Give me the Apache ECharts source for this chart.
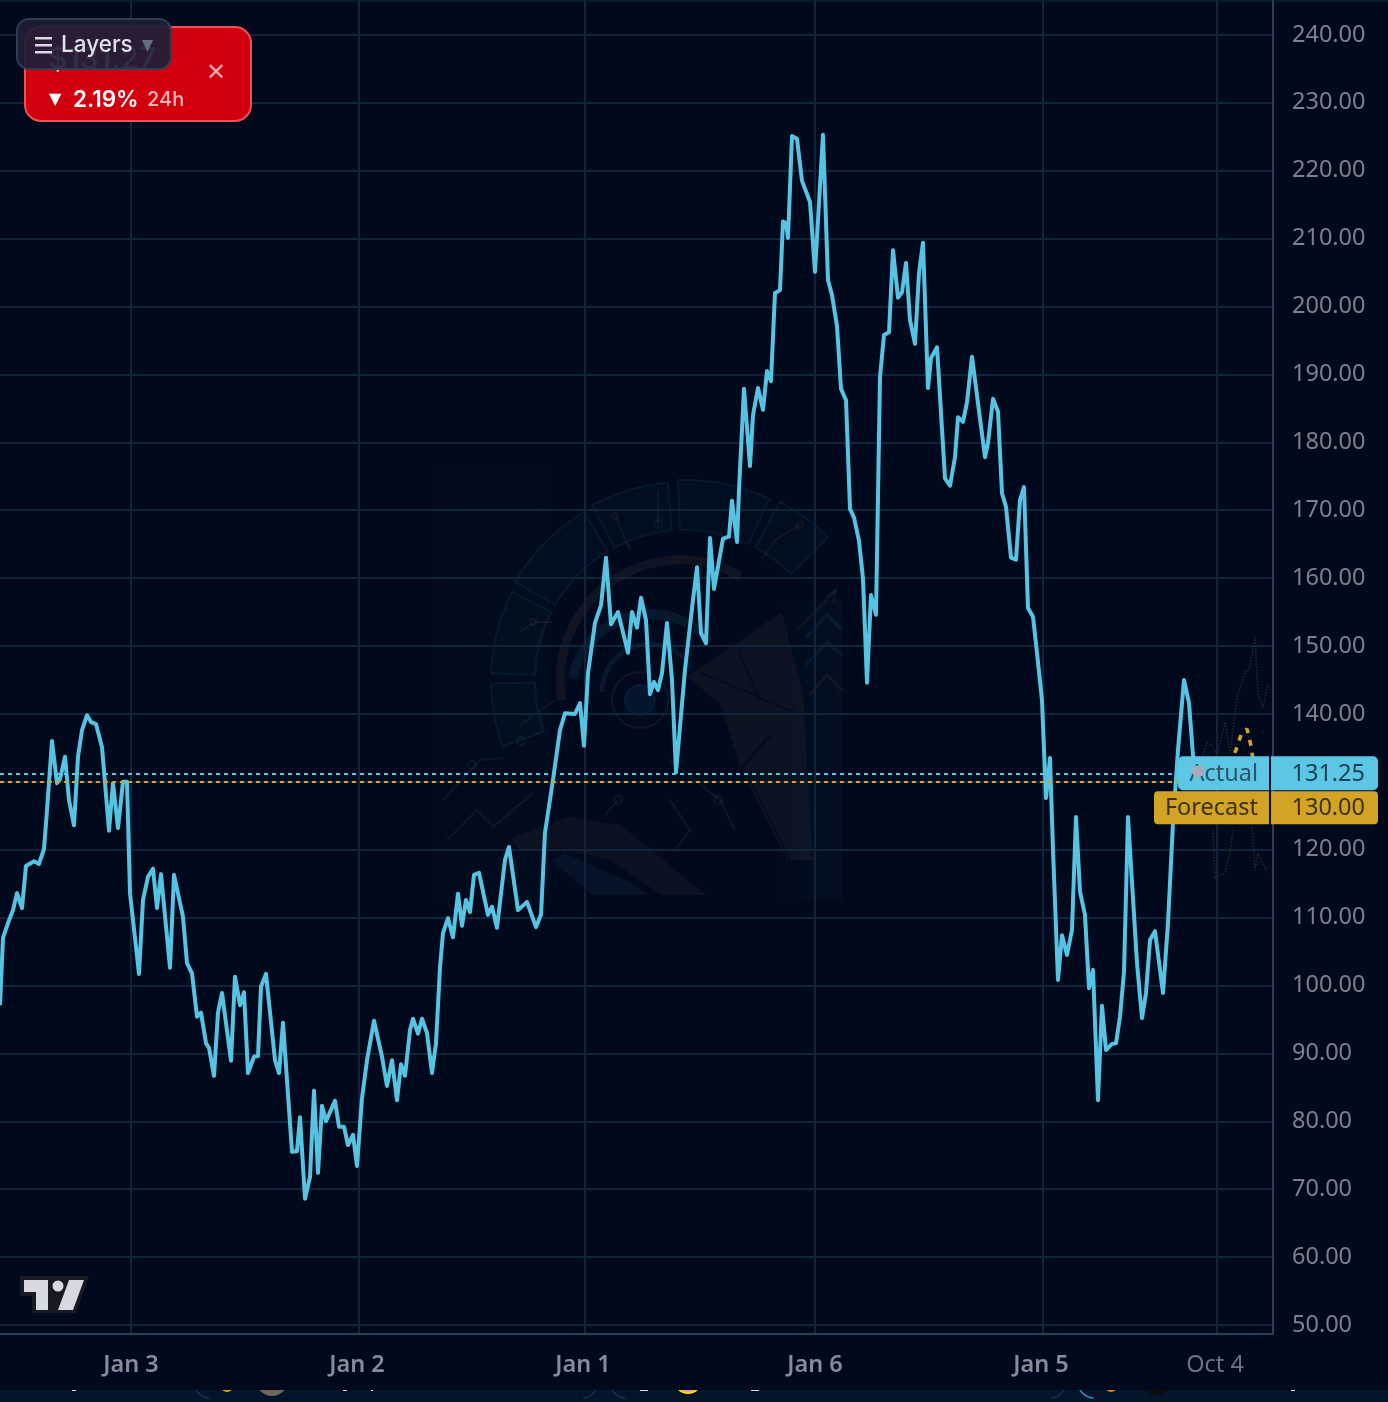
<!DOCTYPE html>
<html>
<head>
<meta charset="utf-8">
<style>html,body{margin:0;padding:0;background:#000a1c}#c{width:1388px;height:1402px}</style>
<script src="https://cdn.jsdelivr.net/npm/echarts@6/dist/echarts.min.js"></script>
</head>
<body>
<div id="c"></div>
<script>
var yTicks = [50,60,70,80,90,100,110,120,130,140,150,160,170,180,190,200,210,220,230,240];
var xTicks = [131,359,585,815,1043,1217];
var xTickLabels = ["Jan 3","Jan 2","Jan 1","Jan 6","Jan 5","Oct 4"];

var timeSteps = [0,3,8,13,17,22,26,34,39,44,47,52,57,60,65,69,74,78,82,87,91,96,102,109,113,118,123,127,130,139,143,148,153,157,161,170,174,183,187,192,197,201,206,209,214,218,222,231,235,240,244,248,254,258,261,266,275,279,283,292,297,300,305,310,314,318,322,326,335,339,344,348,353,357,362,367,374,382,387,392,397,401,405,410,413,418,422,427,432,436,440,443,448,453,458,462,466,470,474,479,488,492,497,505,509,518,527,536,541,545,553,560,565,575,580,584,588,595,601,606,611,618,628,632,637,641,646,650,654,658,662,667,672,676,685,693,697,701,706,710,714,723,729,732,737,739,744,750,753,758,763,767,771,775,780,783,786,788,792,797,802,810,815,823,828,832,837,841,846,850,854,859,863,867,871,876,880,884,889,893,898,902,906,910,915,919,923,928,931,937,945,950,955,958,963,967,972,985,988,993,998,1002,1006,1011,1016,1020,1024,1028,1033,1037,1042,1046,1050,1053,1058,1062,1067,1072,1076,1080,1085,1089,1093,1098,1102,1106,1112,1116,1120,1124,1128,1137,1142,1146,1150,1155,1163,1168,1173,1178,1184,1189,1193,1199];
var actualPrices = [97.1,107.0,109.2,111.1,113.6,111.4,117.6,118.3,117.9,120.1,125.8,136.0,129.8,130.4,133.7,127.3,123.6,133.7,137.6,139.8,138.8,138.5,135.1,122.8,129.8,123.2,130.0,130.0,113.6,101.7,112.6,116.0,117.2,111.4,116.4,102.6,116.3,110.1,103.3,101.8,95.4,96.0,91.5,90.8,86.7,96.0,98.9,88.9,101.3,97.1,99.0,87.1,89.5,89.6,99.8,101.7,89.0,87.1,94.5,75.5,75.6,80.6,68.6,71.8,84.5,72.4,82.3,80.0,83.0,79.2,79.2,76.5,78.0,73.4,83.4,89.0,94.8,89.5,85.2,89.0,83.1,88.4,86.7,93.4,95.1,92.9,95.1,93.0,87.1,91.5,102.7,107.7,109.9,107.1,113.5,108.8,112.6,110.8,116.3,116.6,110.4,111.6,108.5,118.5,120.4,111.1,112.3,108.6,110.4,122.5,130.3,137.6,140.1,140.0,141.6,135.3,146.0,153.4,156.0,163.0,153.2,155.0,149.0,155.0,152.7,157.1,153.8,142.9,144.7,143.5,146.0,153.4,145.0,131.4,146.5,156.8,161.6,151.9,150.4,165.9,158.4,165.8,166.1,171.4,165.3,173.0,187.9,176.5,184.0,188.0,184.8,190.5,189.0,202.0,202.4,212.5,212.3,210.1,225.1,224.7,218.5,215.4,205.1,225.3,203.9,201.7,197.1,187.9,186.2,170.2,168.9,165.5,159.9,144.6,157.5,154.6,189.6,195.8,196.2,208.3,201.3,202.1,206.4,198.0,194.5,204.9,209.4,188.0,192.4,194.0,174.7,173.6,177.8,183.7,183.0,185.9,192.6,177.8,179.9,186.4,184.5,172.5,170.5,163.0,162.7,171.5,173.4,155.6,154.3,149.0,142.0,127.6,133.5,120.0,100.8,107.4,104.5,108.2,124.8,113.8,110.4,99.6,102.3,83.1,97.0,90.5,91.4,91.5,95.4,102.0,124.8,103.3,95.2,98.9,106.7,108.0,98.9,109.2,123.9,134.7,145.0,141.6,133.9,131.25];

var forecastSteps = [1199,1225,1236,1241,1247,1251,1256];
var forecastPrices = [130.0,131.0,134.7,136.9,137.8,135.3,130.0];
var upperSteps = [1202,1207,1212,1217,1225,1230,1235,1237,1245,1250,1255,1258,1263,1268];
var upperPrices = [133.5,135.7,135.4,133.8,138.8,134.2,140.1,142.5,146.0,146.8,151.3,143.1,140.9,144.6];
var lowerASteps = [1213,1215,1225,1230,1233];
var lowerAPrices = [122.9,115.8,116.6,119.5,122.9];
var lowerBSteps = [1252,1255,1258,1267];
var lowerBPrices = [123.3,117.0,119.5,116.7];

var actualValue = 131.25;
var forecastValue = 130.00;

function zip(a,b){return a.map(function(v,i){return [v,b[i]];});}

var BG = "#000a1c", LINE = "#56c3e3", GOLD = "#d3a326", BLUE = "#5cc6e5";
var GRID = "#11243a", AXIS = "#2b4058";
var FONT = '"Noto Sans","Open Sans",sans-serif', UI = 'Inter,"DejaVu Sans",sans-serif';

var chart = echarts.init(document.getElementById("c"));
var blueS = "rgba(45,100,145,0.15)", brownS = "rgba(125,95,75,0.13)";

function sec(a,b,r0,r){ return {type:"sector",z:-1,silent:true,shape:{cx:685,cy:680,r0:r0,r:r,startAngle:a*Math.PI/180,endAngle:b*Math.PI/180,clockwise:true},style:{fill:"rgba(20,55,90,0.07)",stroke:blueS,lineWidth:2}}; }
function arc(cx,cy,r,a,b,col,w){ return {type:"arc",z:-1,silent:true,shape:{cx:cx,cy:cy,r:r,startAngle:a*Math.PI/180,endAngle:b*Math.PI/180,clockwise:true},style:{fill:"none",stroke:col,lineWidth:w}}; }
function pl(p,col,w){ return {type:"polyline",z:-1,silent:true,shape:{points:p},style:{fill:"none",stroke:col,lineWidth:w||2}}; }
function pg(p,fill){ return {type:"polygon",z:-1,silent:true,shape:{points:p},style:{fill:fill}}; }
function cir(x,y,r,col,fill){ return {type:"circle",z:-1,silent:true,shape:{cx:x,cy:y,r:r},style:{fill:fill||"none",stroke:col,lineWidth:2}}; }

var backdrop = [
  {type:"rect",z:-3,silent:true,shape:{x:0,y:1390,width:1388,height:12},style:{fill:"#03142b"}},
  {type:"arc",z:-3,silent:true,shape:{cx:210,cy:1382,r:16,startAngle:1.6,endAngle:3.1,clockwise:true},style:{fill:"none",stroke:"#14304a",lineWidth:1.5}},
  {type:"arc",z:-3,silent:true,shape:{cx:582,cy:1382,r:16,startAngle:0.1,endAngle:1.5,clockwise:true},style:{fill:"none",stroke:"#14304a",lineWidth:1.5}},
  {type:"arc",z:-3,silent:true,shape:{cx:626,cy:1382,r:16,startAngle:1.6,endAngle:3.1,clockwise:true},style:{fill:"none",stroke:"#14304a",lineWidth:1.5}},
  {type:"arc",z:-3,silent:true,shape:{cx:1050,cy:1382,r:16,startAngle:0.1,endAngle:1.5,clockwise:true},style:{fill:"none",stroke:"#14304a",lineWidth:1.5}},
  {type:"arc",z:-3,silent:true,shape:{cx:1094,cy:1382,r:16,startAngle:1.6,endAngle:3.1,clockwise:true},style:{fill:"none",stroke:"#2e8fb0",lineWidth:1.5}},
  {type:"circle",z:-3,silent:true,shape:{cx:272,cy:1380,r:16},style:{fill:"#6e675e"}},
  {type:"circle",z:-3,silent:true,shape:{cx:227,cy:1386,r:6},style:{fill:"#e8a010"}},
  {type:"circle",z:-3,silent:true,shape:{cx:688,cy:1380,r:13},style:{fill:"#e890c0",stroke:"#f5e000",lineWidth:2}},
  {type:"circle",z:-3,silent:true,shape:{cx:1111,cy:1386,r:6},style:{fill:"#e87810"}},
  {type:"circle",z:-3,silent:true,shape:{cx:1156,cy:1380,r:15},style:{fill:"#0a0c12"}},
  {type:"rect",z:-3,silent:true,shape:{x:72,y:1389,width:4,height:2},style:{fill:"#dde"}},
  {type:"rect",z:-3,silent:true,shape:{x:343,y:1389,width:4,height:2},style:{fill:"#dde"}},
  {type:"rect",z:-3,silent:true,shape:{x:371,y:1389,width:2,height:2},style:{fill:"#dde"}},
  {type:"rect",z:-3,silent:true,shape:{x:640,y:1389,width:8,height:2},style:{fill:"#dde"}},
  {type:"rect",z:-3,silent:true,shape:{x:751,y:1389,width:8,height:2},style:{fill:"#dde"}},
  {type:"rect",z:-3,silent:true,shape:{x:1291,y:1389,width:4,height:2},style:{fill:"#dde"}},
  {type:"rect",z:-2,silent:true,shape:{x:0,y:0,width:1388,height:1390},style:{fill:BG}},
  {type:"rect",z:-2,silent:true,shape:{x:0,y:0,width:1388,height:2},style:{fill:"#0a1a30"}},
  {type:"rect",z:-1,silent:true,shape:{x:430,y:470,width:120,height:430},style:{fill:{type:"linear",x:0,y:0,x2:1,y2:0,colorStops:[{offset:0,color:"rgba(10,40,70,0)"},{offset:1,color:"rgba(10,40,70,0.07)"}]}}},
  {type:"rect",z:-1,silent:true,shape:{x:780,y:600,width:62,height:300},style:{fill:{type:"linear",x:0,y:0,x2:1,y2:0,colorStops:[{offset:0,color:"rgba(10,45,80,0)"},{offset:1,color:"rgba(10,45,80,0.14)"}]}}},
  sec(-62,-45,150,202), sec(-92,-65,150,200), sec(-118,-95,150,198), sec(-150,-121,150,196), sec(-178,-153,150,194), sec(-200,-181,150,194),
  arc(680,680,120,-190,-60,brownS,9),
  arc(650,692,78,-170,-40,blueS,10),
  arc(650,692,48,-180,-30,blueS,5),
  cir(640,700,28,"rgba(125,95,75,0.14)"), cir(640,700,15,blueS,"rgba(20,65,110,0.22)"),
  pg([[782,612],[687,677],[720,703],[740,767],[787,860],[813,860],[803,693]],"rgba(120,92,78,0.11)"),
  pl([[738,650],[760,700]],"rgba(0,10,28,0.7)",2), pl([[700,672],[800,715]],"rgba(0,10,28,0.7)",2), pl([[740,770],[770,735]],"rgba(0,10,28,0.7)",3), pl([[745,770],[790,860]],"rgba(0,10,28,0.7)",2),
  pg([[510,838],[570,817],[620,825],[645,845],[705,895],[662,895],[610,860],[560,848],[520,850]],"rgba(120,92,78,0.1)"),
  pg([[552,860],[565,853],[625,880],[650,895],[592,895]],"rgba(25,70,110,0.16)"),
  pl([[447,840],[477,810],[493,827],[533,793]],brownS,2),
  pl([[443,800],[480,760],[505,758]],blueS,2),
  pl([[797,630],[836,590]],brownS,2), pl([[826,597],[836,590],[833,602]],brownS,2),
  pl([[806,638],[827,615],[842,630]],blueS,3), pl([[806,665],[827,642],[842,655]],blueS,3), pl([[810,695],[827,675],[842,690]],brownS,3),
  pl([[520,632],[535,622],[552,622]],brownS,2), cir(533,622,3,brownS), cir(615,516,3,brownS), cir(800,525,3,brownS), cir(658,524,4,blueS),
  pl([[615,516],[630,550]],brownS,2), pl([[800,525],[775,540],[762,560]],brownS,2), pl([[658,490],[658,524]],blueS,2),
  pl([[555,700],[520,725]],blueS,2), cir(521,741,4,blueS), cir(472,765,4,blueS), cir(618,800,4,blueS), cir(718,800,4,blueS),
  pl([[618,800],[605,815]],blueS,2), pl([[670,800],[690,830],[675,850]],blueS,2), pl([[670,760],[720,800],[735,830]],brownS,2)
];

chart.setOption({
  animation:false,
  backgroundColor:BG,
  graphic:{elements:backdrop},
  grid:{left:0,right:115,top:0,bottom:68,containLabel:false,show:false},
  xAxis:{
    type:"value",min:0,max:1273,
    axisLine:{show:true,lineStyle:{color:AXIS,width:2}},
    axisTick:{show:false,customValues:xTicks},
    splitLine:{show:true,lineStyle:{color:GRID,width:2}},
    axisLabel:{
      customValues:xTicks,margin:19,
      formatter:function(v){
        var i=xTicks.indexOf(v), t=xTickLabels[i];
        return "{"+(t==="Oct 4"?"o":(t==="Jan 3"||t==="Jan 6"?"a":"b"))+"|"+t+"}";
      },
      rich:{
        a:{fontFamily:FONT,fontSize:23.5,fontWeight:600,color:"#868c98"},
        b:{fontFamily:FONT,fontSize:23.5,fontWeight:600,color:"#868c98",padding:[0,4,0,0]},
        o:{fontFamily:FONT,fontSize:23.5,color:"#6d727d",padding:[0,4,0,0]}
      }
    }
  },
  yAxis:{
    type:"value",position:"right",min:48.67,max:245.14,
    axisLine:{show:true,onZero:false,lineStyle:{color:AXIS,width:2}},
    axisTick:{show:false,customValues:yTicks},
    splitLine:{show:true,lineStyle:{color:GRID,width:2}},
    axisLabel:{customValues:yTicks,margin:19,align:"left",fontFamily:FONT,fontSize:23.5,color:"#7c818c",formatter:function(v){return v.toFixed(2);}}
  },
  series:[
    {name:"Upper",type:"line",showSymbol:false,silent:true,z:2,data:zip(upperSteps,upperPrices),lineStyle:{color:"#23282a",width:1.5,type:"dotted"}},
    {name:"LowerA",type:"line",showSymbol:false,silent:true,z:2,data:zip(lowerASteps,lowerAPrices),lineStyle:{color:"#23282a",width:1.5,type:"dotted"}},
    {name:"LowerB",type:"line",showSymbol:false,silent:true,z:2,data:zip(lowerBSteps,lowerBPrices),lineStyle:{color:"#23282a",width:1.5,type:"dotted"}},
    {name:"Forecast",type:"line",showSymbol:false,silent:true,z:3,data:zip(forecastSteps,forecastPrices),lineStyle:{color:GOLD,width:3.6,type:[6,7],dashOffset:1},
      markLine:{silent:true,symbol:"none",label:{show:false},animation:false,lineStyle:{color:GOLD,width:2,type:[4,4]},data:[{yAxis:forecastValue}]}},
    {name:"Actual",type:"line",showSymbol:false,silent:true,z:4,data:zip(timeSteps,actualPrices),lineStyle:{color:LINE,width:4,join:"round"},
      markLine:{silent:true,symbol:"none",label:{show:false},animation:false,lineStyle:{color:BLUE,width:2,type:[4,4]},data:[{yAxis:actualValue}]}}
  ]
});

var ay = chart.convertToPixel({yAxisIndex:0},actualValue);
var dotX = chart.convertToPixel({xAxisIndex:0},timeSteps[timeSteps.length-1]);
var top1 = ay-17, top2 = top1+35;
function T(x,y,s,size,col,align,font,weight,z){return {type:"text",z:z||110,silent:true,x:x,y:y,style:{text:s,fontSize:size,fill:col,align:align||"left",verticalAlign:"middle",fontFamily:font||FONT,fontWeight:weight||"normal"}};}
function R(x,y,w,h,r,fill,z,stroke,lw){return {type:"rect",z:z||100,silent:true,shape:{x:x,y:y,width:w,height:h,r:r},style:{fill:fill,stroke:stroke||null,lineWidth:lw||0}};}

var overlay = [
  R(1178,top1,91,34,[5,0,0,5],BLUE), R(1271,top1,107,34,[0,5,5,0],BLUE),
  R(1154,top2,115,33,[4,0,0,4],GOLD), R(1271,top2,107,33,[0,4,4,0],GOLD),
  {type:"rect",z:100,silent:true,shape:{x:1269,y:top1,width:2,height:67},style:{fill:"#04101f"}},
  T(1258,top1+18,"Actual",23.5,"#2a5568","right"), T(1365,top1+18,actualValue.toFixed(2),23.5,"#1c4052","right"),
  T(1258,top2+17,"Forecast",23.5,"#3d3210","right"), T(1365,top2+17,forecastValue.toFixed(2),23.5,"#3d3210","right"),
  {type:"circle",z:120,silent:true,shape:{cx:dotX-1,cy:ay-2,r:6},style:{fill:"#a9acb8"}},

  R(25,27,226,94,16,"#d2000f",130,"#e8525c",2),
  T(48,60,"$131.27",30,"#ffffff","left",UI,"500",131),
  T(216,74,"✕",24,"#f3a9ae","center",'"DejaVu Sans"',"normal",131),
  T(49,100,"▼",16,"#ffffff","left",'"DejaVu Sans"',"normal",131),
  T(73,100,"2.19%",22.5,"#ffffff","left",UI,"600",131),
  T(147,100,"24h",20,"#f2b4b8","left",UI,"500",131),

  R(17,19,154,50,12,"rgba(30,30,56,0.93)",140,"#2d3e54",2),
  R(35,37,17,2.5,0,"#d9dbe4",141), R(35,44,17,2.5,0,"#d9dbe4",141), R(35,51,17,2.5,0,"#d9dbe4",141),
  T(61,45.5,"Layers",22.5,"#dfe1ea","left",UI,"500",141),
  {type:"polygon",z:141,silent:true,shape:{points:[[142,40],[153,40],[147.5,52]]},style:{fill:"#66717f"}},

  {type:"polygon",z:130,silent:true,shape:{points:[[20,1276],[89,1276],[76,1313],[32,1313],[32,1296],[20,1296]]},style:{fill:"#171a23"}},
  {type:"polygon",z:131,silent:true,shape:{points:[[24,1280],[48,1280],[48,1310],[36,1310],[36,1292],[24,1292]]},style:{fill:"#d6d8e2"}},
  {type:"circle",z:131,silent:true,shape:{cx:58,cy:1286,r:5.5},style:{fill:"#d6d8e2"}},
  {type:"polygon",z:131,silent:true,shape:{points:[[69,1280],[84,1280],[73,1310],[58,1310]]},style:{fill:"#d6d8e2"}}
];
chart.setOption({graphic:{elements:backdrop.concat(overlay)}});
</script>
</body>
</html>
